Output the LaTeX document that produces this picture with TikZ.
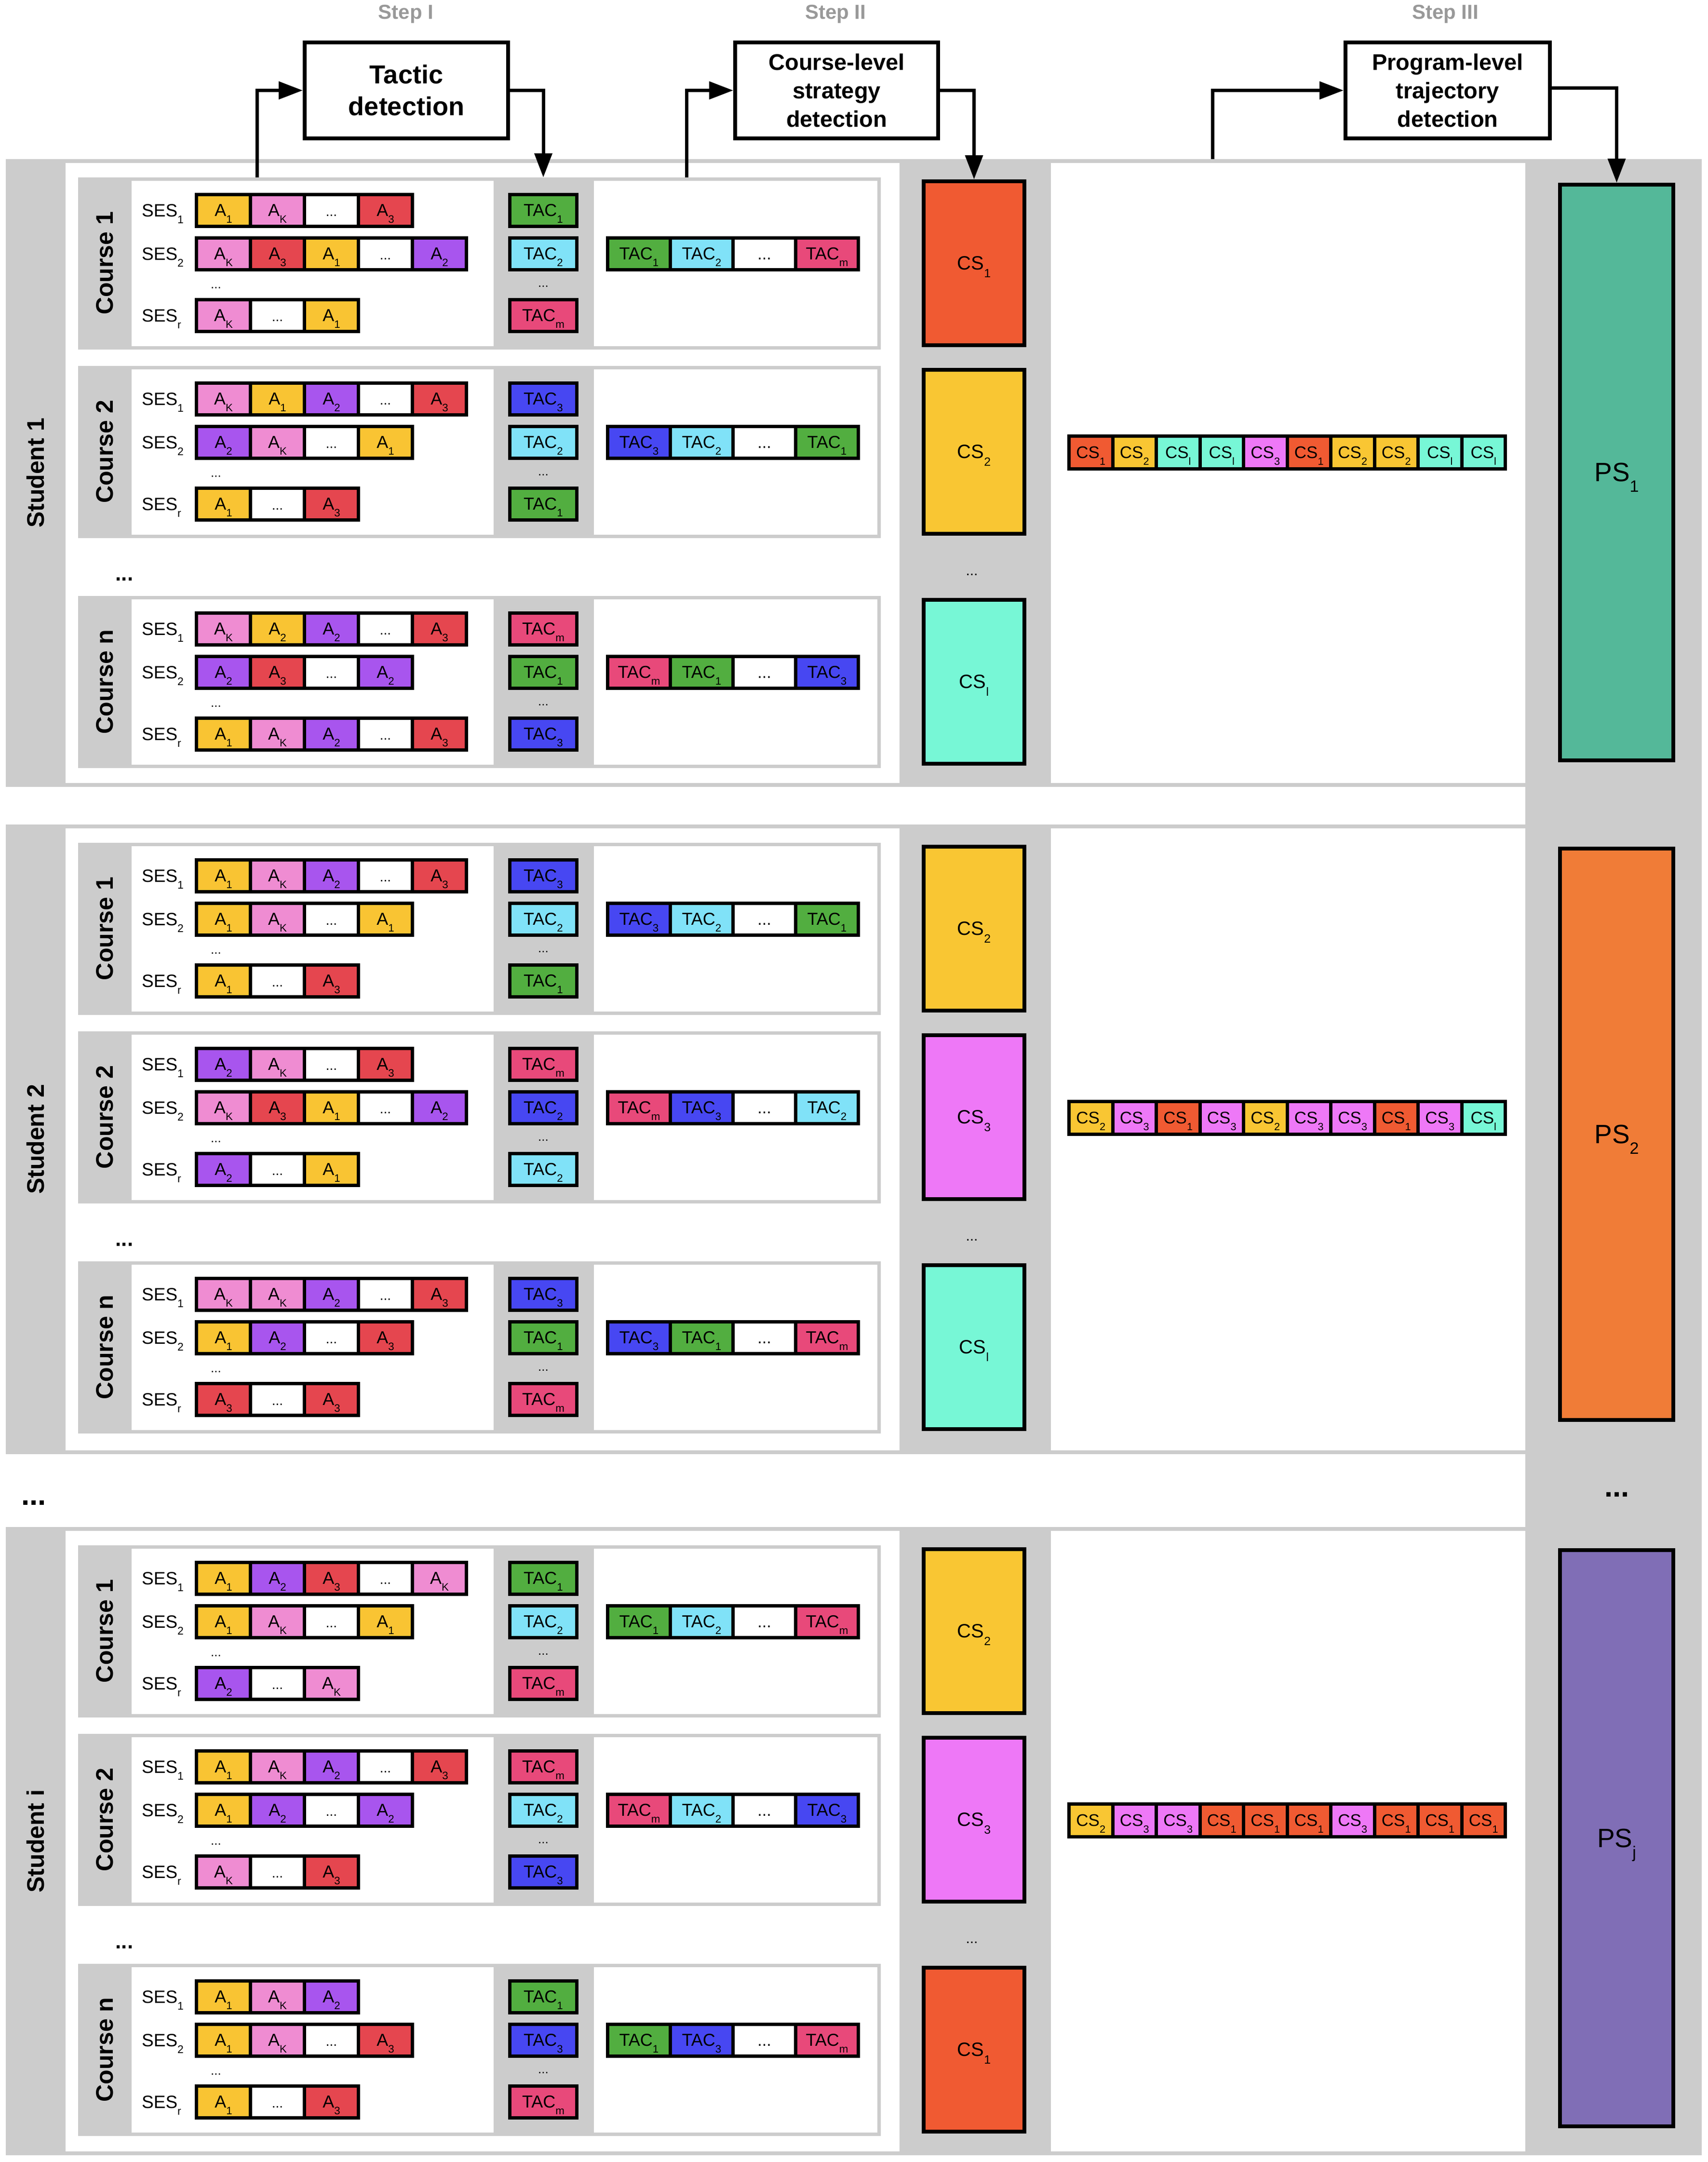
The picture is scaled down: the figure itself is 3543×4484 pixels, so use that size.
\documentclass[tikz,border=0pt]{standalone}
\usepackage{fontspec}
\setmainfont{Liberation Sans}
\usepackage{graphicx}
\usetikzlibrary{arrows.meta}
\definecolor{gr}{HTML}{CCCCCC}
\definecolor{stepgray}{HTML}{999999}
\definecolor{cA1}{HTML}{F9C433}
\definecolor{cAK}{HTML}{EF8CD2}
\definecolor{cA2}{HTML}{A855EE}
\definecolor{cA3}{HTML}{E5464F}
\definecolor{cT1}{HTML}{52AE40}
\definecolor{cT2}{HTML}{80E2F8}
\definecolor{cT3}{HTML}{4747F2}
\definecolor{cTm}{HTML}{E8497A}
\definecolor{cC1}{HTML}{F05A32}
\definecolor{cC2}{HTML}{F9C633}
\definecolor{cC3}{HTML}{EE78F7}
\definecolor{cCl}{HTML}{77F7D6}
\definecolor{cP1}{HTML}{54B899}
\definecolor{cP2}{HTML}{F07C37}
\definecolor{cPj}{HTML}{806EB6}
\newcommand\fsz[1]{\fontsize{#1}{#1}\selectfont}
\newcommand\sbs[1]{\raisebox{-0.4em}[0pt][0pt]{\scalebox{0.62}{#1}}}
\newcommand\Ax[1]{A\sbs{#1}}
\newcommand\Tx[1]{TAC\sbs{#1}}
\newcommand\Cx[1]{CS\sbs{#1}}
\newcommand\celldots{\vphantom{A}{\fsz{28}...}}
\newcommand\seqdots{\vphantom{A}{\fsz{34}...}}
\tikzset{
  cell/.style={draw=black, line width=7pt, inner sep=0pt, minimum height=66pt, text=black, font=\fsz{36}},
  acell/.style={cell, minimum width=112pt},
  tcell/.style={cell, minimum width=130pt},
  tcol/.style={cell, minimum width=139pt},
  cscell/.style={cell, minimum width=90.5pt, minimum height=68pt, font=\fsz{35}},
  csb/.style={draw=black, line width=8pt, inner sep=0pt, minimum width=209pt, minimum height=340pt, font=\fsz{40}},
  psb/.style={draw=black, line width=8pt, inner sep=0pt, minimum width=235pt, font=\fsz{55}},
  titlebox/.style={draw=black, line width=8pt, fill=white, align=center, minimum height=199pt, inner sep=0pt},
  steplabel/.style={text=stepgray, font=\bfseries\fsz{42}},
  vlabel/.style={rotate=90, font=\bfseries\fsz{50}, inner sep=0pt},
  seslbl/.style={anchor=base west, font=\fsz{37}, inner sep=0pt},
  smalldots/.style={font=\fsz{26}, inner sep=0pt},
  middots/.style={font=\bfseries\fsz{44}, inner sep=0pt},
  csdots/.style={font=\fsz{30}, inner sep=0pt},
  bigdots/.style={font=\bfseries\fsz{62}, inner sep=0pt},
  arr/.style={line width=7pt, -{Triangle[length=50pt,width=36pt]}}
}
\newcommand\seqstrip[6]{%
  \foreach \cc/\ll [count=\i] in {#6}{%
    \node[#2, fill=\cc] (#1-\i) at ({#3+(\i-1)*#4},{#5}) {\ll};
  }%
}
\newcommand\coursebox[8]{%
  \fill[gr] (162,#2) rectangle (1827,{#2+357});
  \fill[white] (273,{#2+7}) rectangle (1024,{#2+350});
  \fill[white] (1232,{#2+7}) rectangle (1820,{#2+350});
  \node[vlabel] (#1-lbl) at (217,{#2+178}) {#3};
  \node[seslbl] (#1-s1) at (294,{#2+81}) {SES\sbs{1}};
  \node[seslbl] (#1-s2) at (294,{#2+171}) {SES\sbs{2}};
  \node[seslbl] (#1-s3) at (294,{#2+299}) {SES\sbs{r}};
  \node[smalldots] (#1-d1) at (448,{#2+229}) {...};
  \node[smalldots] (#1-d2) at (1127,{#2+226}) {...};
  \seqstrip{#1-a1}{acell}{463.5}{112}{#2+68}{#4}
  \seqstrip{#1-a2}{acell}{463.5}{112}{#2+158}{#5}
  \seqstrip{#1-a3}{acell}{463.5}{112}{#2+286}{#6}
  \foreach \cc/\ll [count=\i] in {#7}{%
    \ifcase\i\or\def\rowy{68}\or\def\rowy{158}\else\def\rowy{286}\fi
    \node[tcol, fill=\cc] (#1-t\i) at (1127,{#2+\rowy}) {\ll};
  }
  \seqstrip{#1-seq}{tcell}{1325.5}{130}{#2+158}{#8}
}
\newcommand\studentpanel[4]{%
  \fill[gr] (12,#2) rectangle (3164,#3);
  \fill[white] (136,{#2+8}) rectangle (1866,{#3-8});
  \fill[white] (2180,{#2+8}) rectangle (3164,{#3-8});
  \node[vlabel] (#1-lbl) at (74,{(#2+#3)/2}) {#4};
  \node[middots] (#1-cd) at (258,{#2+871}) {...};
  \node[csdots] (#1-csd) at (2016,{#2+862}) {...};
}
\begin{document}
\begin{tikzpicture}[x=1pt,y=-1pt]
\useasboundingbox (0,0) rectangle (3543,4484);
% program-level column
\fill[gr] (3164,330) rectangle (3530,4470);
% ---------------- Student 1
\studentpanel{s1}{330}{1632}{Student 1}
\coursebox{s1c1}{368}{Course 1}
 {cA1/\Ax1, cAK/\Ax{K}, white/\celldots, cA3/\Ax3}
 {cAK/\Ax{K}, cA3/\Ax3, cA1/\Ax1, white/\celldots, cA2/\Ax2}
 {cAK/\Ax{K}, white/\celldots, cA1/\Ax1}
 {cT1/\Tx1, cT2/\Tx2, cTm/\Tx{m}}
 {cT1/\Tx1, cT2/\Tx2, white/\seqdots, cTm/\Tx{m}}
\coursebox{s1c2}{759}{Course 2}
 {cAK/\Ax{K}, cA1/\Ax1, cA2/\Ax2, white/\celldots, cA3/\Ax3}
 {cA2/\Ax2, cAK/\Ax{K}, white/\celldots, cA1/\Ax1}
 {cA1/\Ax1, white/\celldots, cA3/\Ax3}
 {cT3/\Tx3, cT2/\Tx2, cT1/\Tx1}
 {cT3/\Tx3, cT2/\Tx2, white/\seqdots, cT1/\Tx1}
\coursebox{s1cn}{1236}{Course n}
 {cAK/\Ax{K}, cA1/\Ax2, cA2/\Ax2, white/\celldots, cA3/\Ax3}
 {cA2/\Ax2, cA3/\Ax3, white/\celldots, cA2/\Ax2}
 {cA1/\Ax1, cAK/\Ax{K}, cA2/\Ax2, white/\celldots, cA3/\Ax3}
 {cTm/\Tx{m}, cT1/\Tx1, cT3/\Tx3}
 {cTm/\Tx{m}, cT1/\Tx1, white/\seqdots, cT3/\Tx3}
\node[csb, fill=cC1] (s1c1-cs) at (2020.5,546) {\Cx1};
\node[csb, fill=cC2] (s1c2-cs) at (2020.5,937) {\Cx2};
\node[csb, fill=cCl] (s1cn-cs) at (2020.5,1414) {\Cx{l}};
\seqstrip{s1-cs}{cscell}{2262.75}{90.5}{938.5}{cC1/\Cx1, cC2/\Cx2, cCl/\Cx{l}, cCl/\Cx{l}, cC3/\Cx3, cC1/\Cx1, cC2/\Cx2, cC2/\Cx2, cCl/\Cx{l}, cCl/\Cx{l}}
% ---------------- Student 2
\studentpanel{s2}{1710}{3016}{Student 2}
\coursebox{s2c1}{1748}{Course 1}
 {cA1/\Ax1, cAK/\Ax{K}, cA2/\Ax2, white/\celldots, cA3/\Ax3}
 {cA1/\Ax1, cAK/\Ax{K}, white/\celldots, cA1/\Ax1}
 {cA1/\Ax1, white/\celldots, cA3/\Ax3}
 {cT3/\Tx3, cT2/\Tx2, cT1/\Tx1}
 {cT3/\Tx3, cT2/\Tx2, white/\seqdots, cT1/\Tx1}
\coursebox{s2c2}{2139}{Course 2}
 {cA2/\Ax2, cAK/\Ax{K}, white/\celldots, cA3/\Ax3}
 {cAK/\Ax{K}, cA3/\Ax3, cA1/\Ax1, white/\celldots, cA2/\Ax2}
 {cA2/\Ax2, white/\celldots, cA1/\Ax1}
 {cTm/\Tx{m}, cT3/\Tx2, cT2/\Tx2}
 {cTm/\Tx{m}, cT3/\Tx3, white/\seqdots, cT2/\Tx2}
\coursebox{s2cn}{2616}{Course n}
 {cAK/\Ax{K}, cAK/\Ax{K}, cA2/\Ax2, white/\celldots, cA3/\Ax3}
 {cA1/\Ax1, cA2/\Ax2, white/\celldots, cA3/\Ax3}
 {cA3/\Ax3, white/\celldots, cA3/\Ax3}
 {cT3/\Tx3, cT1/\Tx1, cTm/\Tx{m}}
 {cT3/\Tx3, cT1/\Tx1, white/\seqdots, cTm/\Tx{m}}
\node[csb, fill=cC2] (s2c1-cs) at (2020.5,1926) {\Cx2};
\node[csb, fill=cC3] (s2c2-cs) at (2020.5,2317) {\Cx3};
\node[csb, fill=cCl] (s2cn-cs) at (2020.5,2794) {\Cx{l}};
\seqstrip{s2-cs}{cscell}{2262.75}{90.5}{2318.5}{cC2/\Cx2, cC3/\Cx3, cC1/\Cx1, cC3/\Cx3, cC2/\Cx2, cC3/\Cx3, cC3/\Cx3, cC1/\Cx1, cC3/\Cx3, cCl/\Cx{l}}
% ---------------- Student i
\studentpanel{si}{3167}{4470}{Student i}
\coursebox{sic1}{3205}{Course 1}
 {cA1/\Ax1, cA2/\Ax2, cA3/\Ax3, white/\celldots, cAK/\Ax{K}}
 {cA1/\Ax1, cAK/\Ax{K}, white/\celldots, cA1/\Ax1}
 {cA2/\Ax2, white/\celldots, cAK/\Ax{K}}
 {cT1/\Tx1, cT2/\Tx2, cTm/\Tx{m}}
 {cT1/\Tx1, cT2/\Tx2, white/\seqdots, cTm/\Tx{m}}
\coursebox{sic2}{3596}{Course 2}
 {cA1/\Ax1, cAK/\Ax{K}, cA2/\Ax2, white/\celldots, cA3/\Ax3}
 {cA1/\Ax1, cA2/\Ax2, white/\celldots, cA2/\Ax2}
 {cAK/\Ax{K}, white/\celldots, cA3/\Ax3}
 {cTm/\Tx{m}, cT2/\Tx2, cT3/\Tx3}
 {cTm/\Tx{m}, cT2/\Tx2, white/\seqdots, cT3/\Tx3}
\coursebox{sicn}{4073}{Course n}
 {cA1/\Ax1, cAK/\Ax{K}, cA2/\Ax2}
 {cA1/\Ax1, cAK/\Ax{K}, white/\celldots, cA3/\Ax3}
 {cA1/\Ax1, white/\celldots, cA3/\Ax3}
 {cT1/\Tx1, cT3/\Tx3, cTm/\Tx{m}}
 {cT1/\Tx1, cT3/\Tx3, white/\seqdots, cTm/\Tx{m}}
\node[csb, fill=cC2] (sic1-cs) at (2020.5,3383) {\Cx2};
\node[csb, fill=cC3] (sic2-cs) at (2020.5,3774) {\Cx3};
\node[csb, fill=cC1] (sicn-cs) at (2020.5,4251) {\Cx1};
\seqstrip{si-cs}{cscell}{2262.75}{90.5}{3775.5}{cC2/\Cx2, cC3/\Cx3, cC3/\Cx3, cC1/\Cx1, cC1/\Cx1, cC1/\Cx1, cC3/\Cx3, cC1/\Cx1, cC1/\Cx1, cC1/\Cx1}
% ---------------- program-level strategies
\node[psb, fill=cP1, minimum height=1194pt] (ps1) at (3353.5,980) {PS\sbs{1}};
\node[psb, fill=cP2, minimum height=1185pt] (ps2) at (3353.5,2352.5) {PS\sbs{2}};
\node[psb, fill=cPj, minimum height=1195pt] (psj) at (3353.5,3812.5) {PS\sbs{j}};
\node[bigdots] (dotsL) at (70,3117) {...};
\node[bigdots] (dotsR) at (3354,3100) {...};
% ---------------- steps
\node[titlebox, minimum width=422pt, font=\bfseries\fontsize{54}{66}\selectfont] (tactic) at (843,187.5) {Tactic\\detection};
\node[titlebox, minimum width=421pt, font=\bfseries\fontsize{47}{59}\selectfont] (csd) at (1735.5,187.5) {Course-level\\strategy\\detection};
\node[titlebox, minimum width=424pt, font=\bfseries\fontsize{47}{59}\selectfont] (ptd) at (3003,187.5) {Program-level\\trajectory\\detection};
\node[steplabel] (stepI) at (842,29) {Step I};
\node[steplabel] (stepII) at (1733,29) {Step II};
\node[steplabel] (stepIII) at (2998,29) {Step III};
\coordinate (inI) at (533,368);
\coordinate (outI) at (1127,368);
\coordinate (inII) at (1424,368);
\coordinate (inIII) at (2515,330);
\draw[arr] (inI) |- (tactic.west);
\draw[arr] (tactic.east) -| (outI);
\draw[arr] (inII) |- (csd.west);
\draw[arr] (csd.east) -| (s1c1-cs.north);
\draw[arr] (inIII) |- (ptd.west);
\draw[arr] ([yshift=5pt]ptd.east) -| (ps1.north);
\end{tikzpicture}
\end{document}
